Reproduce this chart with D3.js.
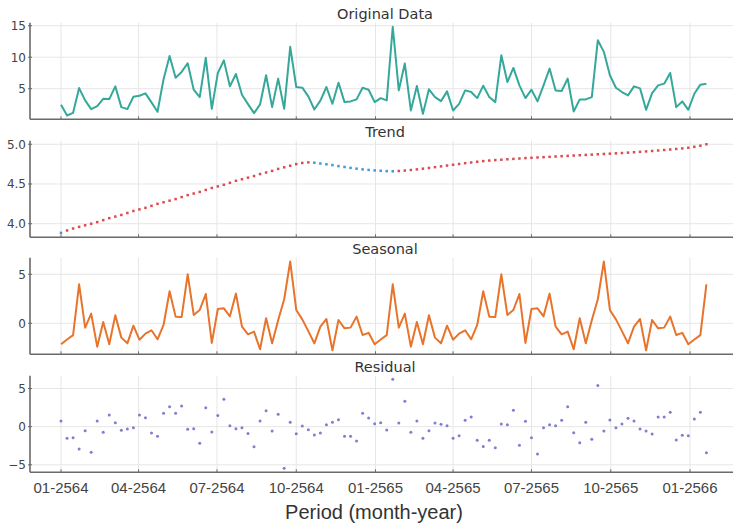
<!DOCTYPE html>
<html><head><meta charset="utf-8">
<script src="https://cdn.jsdelivr.net/npm/d3@7"></script>
<style>body{margin:0;background:#fff;overflow:hidden}</style>
</head><body>
<svg id="c" width="733" height="525"></svg>
<script>
// ---- data (weekly observations starting 01-2564) ----
const startDate = "2021-01-01";
const original = [2.45,0.74,1.17,5.1,3.14,1.76,2.23,3.4,3.35,5.37,2.07,1.76,3.72,3.88,4.26,2.82,1.33,6.5,10.2,6.75,
  7.66,9.04,4.84,3.67,9.9,1.8,7.5,9.5,5.37,7.34,4.04,2.55,1.12,2.5,7.13,2.07,6.6,1.8,11.65,5.27,
  5.16,3.78,1.7,3.1,5.27,2.6,5.96,2.87,2.98,3.3,5.16,4.84,2.87,3.5,3.14,14.84,4.73,9.0,1.54,5.43,
  1.0,4.9,3.67,3.03,4.57,1.54,2.6,4.73,4.47,3.5,5.48,3.67,2.87,10.3,6.06,8.3,5.53,3.51,4.84,2.98,
  5.53,8.19,4.73,4.63,6.6,1.38,3.3,3.3,3.67,12.7,10.85,7.13,5.16,4.47,3.94,5.37,5.05,1.65,4.31,5.53,
  5.8,7.5,2.07,2.98,1.65,4.2,5.64,5.8];
const trend = [3.885,3.915,3.94,3.96,3.98,4.0,4.02,4.045,4.07,4.09,4.11,4.135,4.16,4.18,4.2,4.225,4.25,4.27,4.29,4.31,
  4.335,4.36,4.38,4.4,4.425,4.45,4.47,4.49,4.515,4.54,4.56,4.58,4.6,4.625,4.645,4.665,4.69,4.71,4.73,4.75,
  4.765,4.772,4.768,4.758,4.748,4.738,4.725,4.714,4.703,4.693,4.684,4.677,4.671,4.666,4.662,4.660,4.664,4.669,4.676,4.684,
  4.693,4.702,4.712,4.722,4.732,4.742,4.752,4.762,4.771,4.780,4.788,4.795,4.801,4.806,4.811,4.816,4.821,4.826,4.830,4.834,
  4.838,4.842,4.846,4.850,4.854,4.858,4.862,4.866,4.870,4.874,4.878,4.882,4.886,4.890,4.895,4.900,4.905,4.910,4.916,4.922,
  4.928,4.934,4.941,4.948,4.956,4.968,4.982,5.0];
const seasonal = [-2.14,-1.65,-1.2,3.98,-0.44,0.99,-2.38,0.14,-2.14,0.82,-1.46,-2.04,-0.24,-1.67,-1.05,-0.71,-1.63,-0.17,3.27,0.68,
  0.65,5.0,0.85,1.36,2.99,-2.0,1.46,1.53,0.71,3.03,-0.34,-1.12,-0.85,-2.65,0.51,-2.04,0.3,2.45,6.3,1.36,
  0.4,-0.8,-2.04,-0.34,0.44,-2.76,0.34,-0.51,-0.44,0.68,-1.19,-0.97,
  -2.14,-1.65,-1.2,3.98,-0.44,0.99,-2.38,0.14,-2.14,0.82,-1.46,-2.04,-0.24,-1.67,-1.05,-0.71,-1.63,-0.17,3.27,0.68,
  0.65,5.0,0.85,1.36,2.99,-2.0,1.46,1.53,0.71,3.03,-0.34,-1.12,-0.85,-2.65,0.51,-2.04,0.3,2.45,6.3,1.36,
  0.4,-0.8,-2.04,-0.34,0.44,-2.76,0.34,-0.51,-0.44,0.68,-1.19,-0.97,
  -2.14,-1.65,-1.2,3.98];
const residual = [0.74,-1.53,-1.44,-2.93,-0.52,-3.36,0.74,-0.74,1.53,0.52,-0.48,-0.31,-0.13,1.53,1.18,-0.83,-1.27,1.75,2.62,1.75,
  2.71,-0.35,-0.26,-2.18,2.49,-0.70,1.48,3.58,0.13,-0.26,-0.13,-0.9,-2.64,0.74,2.1,-0.57,1.62,-5.46,0.57,-0.92,
  0.09,-0.39,-1.09,-0.83,0.26,0.57,0.92,-1.27,-1.27,-1.88,1.75,1.14,0.39,0.52,-0.44,6.2,0.48,3.32,-0.74,0.74,
  -1.53,-0.52,0.48,0.31,0.13,-1.53,-1.18,0.83,1.27,-1.79,-2.6,-1.79,-2.75,0.35,0.26,2.14,-2.45,0.70,-1.44,-3.58,
  -0.13,0.26,0.13,0.83,2.62,-0.79,-2.10,0.57,-1.66,5.41,-0.57,0.87,-0.13,0.35,1.09,0.74,-0.31,-0.57,-0.96,1.27,
  1.27,1.88,-1.75,-1.14,-1.18,1.0,1.88,-3.41];
const tickLabels = ["01-2564","04-2564","07-2564","10-2564","01-2565","04-2565","07-2565","10-2565","01-2566"];
const tickDates = ["2021-01-01","2021-04-01","2021-07-01","2021-10-01","2022-01-01","2022-04-01","2022-07-01","2022-10-01","2023-01-01"];
const panelTitles = ["Original Data","Trend","Seasonal","Residual"];
const yTickValues = [[5,10,15],[4.0,4.5,5.0],[0,5],[-5,0,5]];
const yTickText = [["5","10","15"],["4.0","4.5","5.0"],["0","5"],["\u22125","0","5"]];
const yDomains = [[0.14,15.48],[3.829,5.045],[-3.16,6.69],[-5.98,6.68]];
const xLabel = "Period (month-year)";

// ---- layout ----
const svg = d3.select("#c");
const parse = d3.utcParse("%Y-%m-%d");
const t0 = parse(startDate);
const dates = original.map((_, i) => d3.utcDay.offset(t0, 7 * i));
const tDates = tickDates.map(parse);
const x = d3.scaleUtc()
  .domain([d3.utcDay.offset(tDates[0], -36), d3.utcDay.offset(tDates[tDates.length - 1], 58)])
  .range([30, 740]);
const panelTops = [22.7, 140.7, 257.7, 375.7];
const panelH = 96.6;
const L = 30, R = 740;
const fontTick = "DejaVu Sans, Verdana, sans-serif";

const cols = {line: "#35a89b", season: "#e8742c", up: "#dc4b50", down: "#3d9ad6", resid: "#7f7fd0"};

panelTitles.forEach((title, p) => {
  const top = panelTops[p], bot = top + panelH;
  const y = d3.scaleLinear().domain(yDomains[p]).range([bot, top]);
  const g = svg.append("g");
  // grid
  g.selectAll(".vg").data(tDates).join("line")
    .attr("x1", d => x(d)).attr("x2", d => x(d)).attr("y1", top).attr("y2", bot)
    .attr("stroke", "#e6e6e6").attr("stroke-width", 1);
  g.selectAll(".hg").data(yTickValues[p]).join("line")
    .attr("x1", L).attr("x2", R).attr("y1", d => y(d)).attr("y2", d => y(d))
    .attr("stroke", "#e6e6e6").attr("stroke-width", 1);
  // axes spines
  g.append("line").attr("x1", L).attr("x2", L).attr("y1", top).attr("y2", bot).attr("stroke", "#6a6a6a").attr("stroke-width", 1.6);
  g.append("line").attr("x1", L).attr("x2", R).attr("y1", bot).attr("y2", bot).attr("stroke", "#6a6a6a").attr("stroke-width", 1.6);
  // x ticks (inward)
  g.selectAll(".xt").data(tDates).join("line")
    .attr("x1", d => x(d)).attr("x2", d => x(d)).attr("y1", bot).attr("y2", bot - 3)
    .attr("stroke", "#6a6a6a").attr("stroke-width", 1);
  // y ticks + labels
  g.selectAll(".yt").data(yTickValues[p]).join("line")
    .attr("x1", L - 2).attr("x2", L + 2).attr("y1", d => y(d)).attr("y2", d => y(d))
    .attr("stroke", "#6a6a6a").attr("stroke-width", 1);
  g.selectAll(".yl").data(yTickValues[p]).join("text")
    .attr("x", L - 4).attr("y", d => y(d)).attr("dy", "0.36em")
    .attr("text-anchor", "end").attr("font-family", fontTick).attr("font-size", 12).attr("fill", "#444")
    .text((d, i) => yTickText[p][i]);
  // title
  g.append("text").attr("x", 385).attr("y", top - 4).attr("text-anchor", "middle")
    .attr("font-family", fontTick).attr("font-size", 14.5).attr("fill", "#333").text(title);

  if (p === 0 || p === 2) {
    const vals = p === 0 ? original : seasonal;
    g.append("path").datum(vals)
      .attr("fill", "none").attr("stroke", p === 0 ? cols.line : cols.season).attr("stroke-width", 2)
      .attr("stroke-linejoin", "round")
      .attr("d", d3.line().x((d, i) => x(dates[i])).y(d => y(d)));
  } else if (p === 1) {
    g.selectAll(".tr").data(trend).join("rect")
      .attr("x", (d, i) => x(dates[i]) - 1.25).attr("y", d => y(d) - 1.25)
      .attr("width", 2.5).attr("height", 2.5)
      .attr("fill", (d, i) => (i > 0 && d > trend[i - 1]) ? cols.up : cols.down);
  } else {
    g.selectAll(".rs").data(residual).join("circle")
      .attr("cx", (d, i) => x(dates[i])).attr("cy", d => y(d)).attr("r", 1.5)
      .attr("fill", cols.resid);
  }
});

// bottom x labels
svg.append("g").selectAll("text").data(tDates).join("text")
  .attr("x", d => x(d)).attr("y", 493).attr("text-anchor", "middle")
  .attr("font-family", "Liberation Sans Narrow, Arial Narrow, sans-serif").attr("font-size", 15).attr("fill", "#444")
  .text((d, i) => tickLabels[i]);
svg.append("text").attr("x", 374).attr("y", 519).attr("text-anchor", "middle")
  .attr("font-family", "Liberation Sans Narrow, Arial Narrow, sans-serif").attr("font-size", 20).attr("fill", "#333")
  .text(xLabel);
</script>
</body></html>
